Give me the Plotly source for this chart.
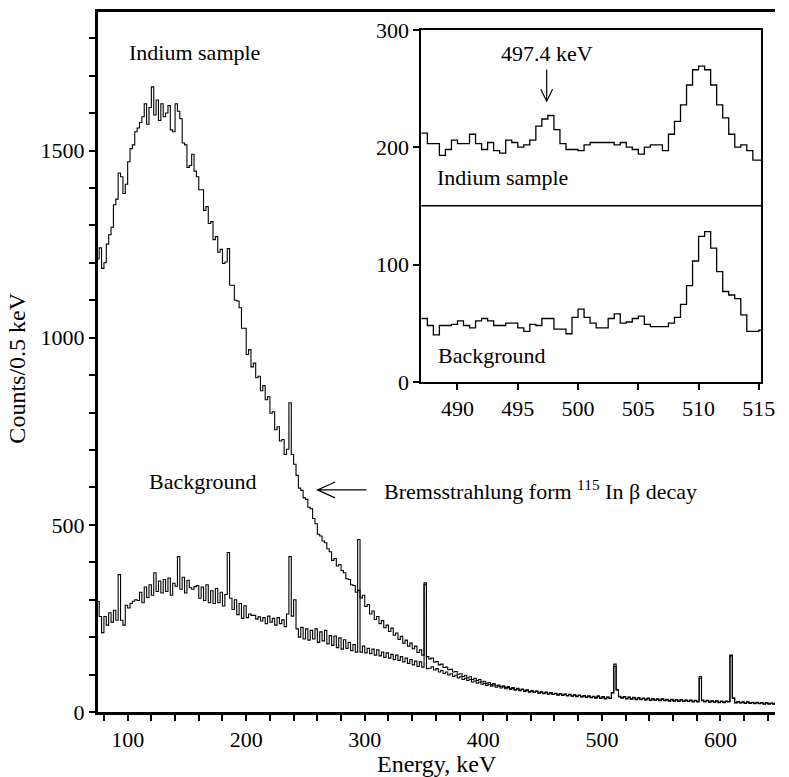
import plotly.graph_objects as go

# ---------------- data ----------------
# Main spectra: channels every 2 keV starting at 75 keV
energy_start_kev = 75
channel_width_kev = 2

indium_counts = [
    1210, 1240, 1185, 1200, 1250, 1275, 1295, 1355, 1370, 1440,   # 75-93
    1430, 1385, 1410, 1470, 1505, 1515, 1550, 1560, 1575, 1590,   # 95-113
    1625, 1570, 1615, 1670, 1595, 1635, 1580, 1625, 1590, 1600,   # 115-133
    1620, 1555, 1550, 1625, 1605, 1585, 1520, 1515, 1455, 1460,   # 135-153
    1490, 1445, 1430, 1395, 1395, 1340, 1350, 1305, 1310, 1262,   # 155-173
    1270, 1228, 1236, 1198, 1202, 1238, 1140, 1140, 1100, 1098,   # 175-193
    1080, 1025, 1025, 955, 968, 922, 932, 893, 897, 858,          # 195-213
    872, 834, 842, 798, 802, 754, 762, 724, 728, 688,             # 215-233
    702, 826, 688, 662, 632, 598, 592, 572, 568, 547,             # 235-253
    543, 517, 503, 475, 470, 457, 452, 436, 428, 405,             # 255-273
    410, 390, 394, 378, 372, 356, 354, 340, 338, 320,             # 275-293
    461, 305, 312, 282, 287, 262, 270, 247, 255, 236,             # 295-313
    244, 225, 232, 215, 224, 205, 211, 194, 202, 184,             # 315-333
    192, 176, 184, 169, 176, 159, 166, 152, 345, 148,             # 335-353
    142, 144, 133, 135, 126, 128, 119, 120, 113, 114,             # 355-373
    107, 108, 101, 102, 95, 98, 91, 94, 87, 90,                   # 375-393
    84, 87, 80, 82, 77, 79, 73, 76, 70, 72,                       # 395-413
    68, 70, 65, 68, 63, 65, 60, 63, 58, 61,                       # 415-433
    56, 59, 54, 57, 53, 56, 51, 54, 50, 53,                       # 435-453
    48, 52, 47, 50, 46, 49, 45, 48, 44, 47,                       # 455-473
    43, 46, 42, 45, 41, 44, 40, 43, 39, 42,                       # 475-493
    38, 43, 37, 41, 36, 40, 37, 52, 128, 58,                      # 495-513
    40, 38, 41, 36, 40, 35, 39, 34, 38, 34,                       # 515-533
    37, 33, 37, 32, 36, 32, 35, 31, 35, 31,                       # 535-553
    34, 30, 34, 30, 33, 29, 33, 29, 32, 29,                       # 555-573
    32, 28, 31, 28, 90, 30, 28, 31, 27, 30,                       # 575-593
    27, 30, 26, 29, 26, 29, 28, 150, 36, 25,                      # 595-613
    28, 25, 27, 24, 27, 24, 26, 23, 26, 23,                       # 615-633
    25, 22, 25, 22, 24, 22, 24, 21,                               # 635-649
]

background_counts = [
    295, 255, 212, 255, 232, 265, 240, 272, 245, 367,             # 75-93
    245, 232, 285, 278, 290, 296, 300, 298, 320, 292,             # 95-113
    334, 306, 340, 312, 372, 322, 350, 318, 354, 322,             # 115-133
    358, 312, 344, 336, 415, 328, 360, 318, 352, 332,             # 135-153
    328, 335, 338, 304, 334, 298, 340, 292, 324, 290,             # 155-173
    330, 292, 320, 283, 314, 426, 304, 274, 300, 260,             # 175-193
    290, 250, 284, 252, 262, 258, 258, 248, 254, 243,             # 195-213
    252, 236, 256, 240, 250, 232, 252, 236, 246, 228,             # 215-233
    262, 415, 256, 300, 222, 200, 226, 195, 222, 192,             # 235-253
    218, 195, 222, 186, 214, 190, 218, 182, 204, 178,             # 255-273
    203, 172, 198, 168, 193, 170, 186, 164, 180, 160,             # 275-293
    325, 160, 176, 158, 170, 156, 168, 152, 166, 150,             # 295-313
    160, 146, 158, 144, 154, 140, 152, 138, 148, 134,             # 315-333
    144, 130, 140, 126, 136, 122, 134, 120, 340, 116,             # 335-353
    117, 121, 112, 116, 107, 111, 103, 107, 99, 102,              # 355-373
    95, 98, 91, 94, 87, 90, 84, 87, 80, 83,                       # 375-393
    77, 80, 74, 77, 71, 74, 69, 72, 66, 69,                       # 395-413
    64, 67, 62, 65, 60, 63, 58, 61, 57, 60,                       # 415-433
    55, 58, 53, 56, 52, 55, 50, 53, 49, 52,                       # 435-453
    48, 51, 47, 49, 45, 48, 44, 47, 43, 46,                       # 455-473
    42, 45, 41, 44, 40, 43, 39, 42, 38, 41,                       # 475-493
    37, 41, 36, 40, 35, 39, 36, 50, 122, 60,                      # 495-513
    42, 37, 40, 35, 39, 34, 38, 33, 37, 33,                       # 515-533
    36, 32, 36, 31, 35, 31, 34, 30, 34, 30,                       # 535-553
    33, 29, 33, 29, 32, 28, 32, 28, 31, 28,                       # 555-573
    31, 27, 30, 27, 95, 32, 27, 30, 26, 29,                       # 575-593
    26, 29, 25, 28, 25, 28, 27, 152, 38, 24,                      # 595-613
    27, 24, 26, 23, 26, 23, 25, 22, 25, 22,                       # 615-633
    24, 21, 24, 21, 23, 21, 23, 20,                               # 635-649
]

# Inset: 0.5 keV bins starting at 487 keV
inset_start_kev = 487.0
inset_bin_kev = 0.5
inset_indium_counts = [
    212, 203, 203, 193, 198, 206, 203, 203, 211, 203,
    198, 204, 197, 195, 206, 204, 200, 202, 206, 218,
    224, 227, 215, 203, 198, 198, 197, 202, 204, 204,
    204, 204, 202, 204, 200, 198, 194, 200, 202, 202,
    197, 211, 222, 236, 253, 266, 269, 266, 253, 236,
    225, 211, 200, 202, 197, 189, 189,
]
inset_background_counts = [
    54, 48, 40, 48, 48, 49, 52, 48, 46, 52,
    54, 52, 48, 48, 50, 50, 46, 43, 49, 48,
    54, 54, 45, 45, 41, 55, 62, 55, 50, 46,
    46, 54, 58, 50, 51, 54, 56, 49, 47, 47,
    47, 50, 55, 66, 82, 103, 124, 128, 114, 94,
    77, 74, 71, 57, 43, 43, 44,
]

main_x_ticks = [100, 200, 300, 400, 500, 600]
main_y_ticks = [0, 500, 1000, 1500]
inset_x_ticks = [490, 495, 500, 505, 510, 515]
inset_y_ticks = [0, 100, 200, 300]
inset_divider_level = 150
marked_peak_kev = 497.4

# ---------------- derived arrays ----------------
main_energy = [energy_start_kev + channel_width_kev * i for i in range(len(indium_counts))]
inset_edges = [inset_start_kev + inset_bin_kev * i for i in range(len(inset_indium_counts) + 1)]
inset_ind = inset_indium_counts + [inset_indium_counts[-1]]
inset_bkg = inset_background_counts + [inset_background_counts[-1]]

# ---------------- layout geometry (pixels) ----------------
W, H = 789, 777
L, R, T, B = 98, 789, 6, 712
PW, PH = R - L, B - T


def px(x):
    return (x - L) / PW


def py(y):
    return (B - y) / PH


FONT = "'Liberation Serif', 'Times New Roman', Times, serif"
BLACK = "#000000"

fig = go.Figure()
fig.add_trace(go.Scatter(x=main_energy, y=indium_counts, mode="lines",
                         line=dict(color=BLACK, width=1.1, shape="hvh"),
                         showlegend=False, hoverinfo="skip"))
fig.add_trace(go.Scatter(x=main_energy, y=background_counts, mode="lines",
                         line=dict(color=BLACK, width=1.1, shape="hvh"),
                         showlegend=False, hoverinfo="skip"))
fig.add_trace(go.Scatter(x=inset_edges, y=inset_ind, mode="lines",
                         line=dict(color=BLACK, width=1.3, shape="hv"),
                         xaxis="x2", yaxis="y2", showlegend=False, hoverinfo="skip"))
fig.add_trace(go.Scatter(x=inset_edges, y=inset_bkg, mode="lines",
                         line=dict(color=BLACK, width=1.3, shape="hv"),
                         xaxis="x2", yaxis="y2", showlegend=False, hoverinfo="skip"))

axis_common = dict(showgrid=False, zeroline=False, showline=True, linecolor=BLACK,
                   ticks="outside", tickcolor=BLACK, tickwidth=1.5,
                   ticklabeloverflow="allow",
                   tickfont=dict(family=FONT, size=22, color=BLACK))

inset_left, inset_right, inset_top, inset_bottom = 428, 775, 24, 379

fig.update_layout(
    width=W, height=H,
    margin=dict(l=L, r=W - R, t=T, b=H - B, pad=0),
    paper_bgcolor="white", plot_bgcolor="white",
    font=dict(family=FONT, size=22, color=BLACK),
    xaxis=dict(axis_common, range=[75, 646], domain=[0, 1], linewidth=3, mirror=True,
               tickvals=main_x_ticks, ticklen=6,
               minor=dict(dtick=20, tick0=0, ticks="outside", ticklen=6,
                          tickwidth=1.5, tickcolor=BLACK, showgrid=False)),
    yaxis=dict(axis_common, range=[0, 1870], domain=[0, 1], linewidth=3, mirror=False,
               tickvals=main_y_ticks, ticklen=6,
               minor=dict(dtick=100, tick0=0, ticks="outside", ticklen=6,
                          tickwidth=1.5, tickcolor=BLACK, showgrid=False)),
    xaxis2=dict(axis_common, range=[487, 515.2], anchor="y2",
                domain=[px(inset_left), px(inset_right)], linewidth=2, mirror=True,
                tickvals=inset_x_ticks, ticklen=6),
    yaxis2=dict(axis_common, range=[0, 300], anchor="x2",
                domain=[py(inset_bottom), py(inset_top)], linewidth=2, mirror=True,
                tickvals=inset_y_ticks, ticklen=6),
)

# inset divider
fig.add_shape(type="line", xref="x2 domain", yref="y2", x0=0, x1=1,
              y0=inset_divider_level, y1=inset_divider_level,
              line=dict(color=BLACK, width=1.5))


# arrows drawn as open-V paths (paper coordinates from pixel positions)
def arrow_path(x0, y0, x1, y1, hx1, hy1, hx2, hy2):
    return (f"M {px(x0)},{py(y0)} L {px(x1)},{py(y1)} "
            f"M {px(hx1)},{py(hy1)} L {px(x1)},{py(y1)} L {px(hx2)},{py(hy2)}")


# main arrow (pointing left)
fig.add_shape(type="path", xref="paper", yref="paper",
              path=arrow_path(372, 488, 322, 488, 340, 480, 340, 496),
              line=dict(color=BLACK, width=1.2))
# inset arrow (pointing down at 497.4 keV)
ax_px = inset_left + (marked_peak_kev - 487) / (515.2 - 487) * (inset_right - inset_left)
fig.add_shape(type="path", xref="paper", yref="paper",
              path=arrow_path(ax_px, 64, ax_px, 96, ax_px - 6, 84, ax_px + 6, 84),
              line=dict(color=BLACK, width=1.2))


def label(text, x, y, xanchor="left", size=22, angle=0):
    fig.add_annotation(text=text, x=px(x), y=py(y), xref="paper", yref="paper",
                       xanchor=xanchor, yanchor="middle", showarrow=False,
                       textangle=angle,
                       font=dict(family=FONT, size=size, color=BLACK))


label("Indium sample", 128, 47)
label("Background", 148, 480)
label("Bremsstrahlung form <sup>115</sup> In β decay", 388, 488)
label(f"{marked_peak_kev} keV", ax_px, 48, xanchor="center")
label("Indium sample", 442, 173)
label("Background", 443, 352)
label("Energy, keV", (L + R) / 2, 764, xanchor="center", size=24)
label("Counts/0.5 keV", 15, 365, xanchor="center", angle=-90, size=24)

fig.write_html("out.html")
